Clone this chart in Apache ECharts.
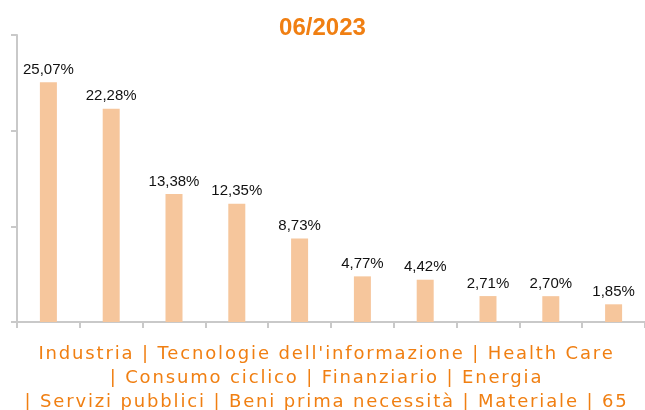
<!DOCTYPE html>
<html>
<head>
<meta charset="utf-8">
<script src="https://cdn.jsdelivr.net/npm/echarts@6/dist/echarts.min.js"></script>
<style>
  html, body { margin: 0; padding: 0; background: #fff; }
  #wrap { position: relative; width: 645px; height: 410px; }
  #chart { width: 645px; height: 410px; }
  #caption {
    position: absolute; left: 4px; top: 341px; width: 645px;
    text-align: center; white-space: nowrap;
    font-family: 'DejaVu Sans'; font-size: 18px; line-height: 24px;
    letter-spacing: 1.85px; color: #f07f12;
  }
</style>
</head>
<body>
<div id="wrap">
  <div id="chart"></div>
  <div id="caption"></div>
</div>
<script>
  // settori (the caption lists the names, the axis itself has no labels)
  const sectors = ['Industria', 'Tecnologie dell\'informazione', 'Health Care', 'Consumo ciclico',
    'Finanziario', 'Energia', 'Servizi pubblici', 'Beni prima necessità', 'Materiale', '65']
  const weights = [25.07, 22.28, 13.38, 12.35, 8.73, 4.77, 4.42, 2.71, 2.70, 1.85]
  const captionLines = [
    'Industria | Tecnologie dell\'informazione | Health Care',
    '| Consumo ciclico | Finanziario | Energia',
    '| Servizi pubblici | Beni prima necessità | Materiale | 65'
  ]

  const orange = '#f07f12'
  const axisGray = '#c9c9c9'

  // caption under the axis, letter-spaced like the original
  const cap = document.getElementById('caption')
  captionLines.forEach(function (line) {
    const d = document.createElement('div')
    d.textContent = line
    cap.appendChild(d)
  })

  const chart = echarts.init(document.getElementById('chart'), null, { renderer: 'canvas' })
  const option = {
    animation: false,
    title: {
      text: '06/2023',
      left: 'center',
      top: 11,
      textStyle: {
        color: orange,
        fontSize: 24,
        fontWeight: 'bold',
        fontFamily: 'Liberation Sans'
      }
    },
    grid: {
      left: 17,
      top: 35,
      width: 634,
      height: 287,
      containLabel: false
    },
    xAxis: {
      type: 'category',
      data: sectors,
      axisLine: { show: true, lineStyle: { color: axisGray, width: 2 } },
      axisTick: { show: true, interval: 0, length: 6, lineStyle: { color: axisGray, width: 2 } },
      axisLabel: { show: false }
    },
    yAxis: {
      type: 'value',
      min: 0,
      max: 30,
      interval: 10,
      splitLine: { show: false },
      axisLine: { show: true, lineStyle: { color: axisGray, width: 2 } },
      axisTick: { show: true, length: 6, lineStyle: { color: axisGray, width: 2 } },
      axisLabel: { show: false }
    },
    series: [{
      type: 'bar',
      data: weights,
      barWidth: 17,
      itemStyle: { color: '#f6c69c' },
      label: {
        show: true,
        position: 'top',
        distance: 5,
        color: '#111',
        fontSize: 15,
        fontFamily: 'Liberation Sans',
        formatter: function (p) {
          return p.value.toFixed(2).replace('.', ',') + '%'
        }
      }
    }]
  }
  chart.setOption(option)
</script>
</body>
</html>
